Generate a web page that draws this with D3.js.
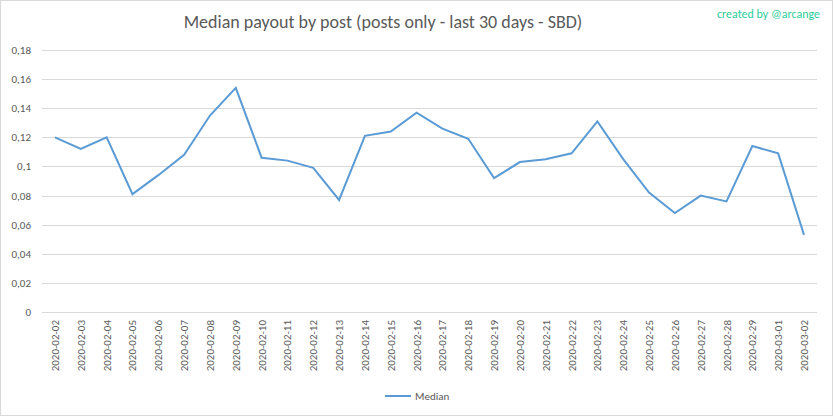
<!DOCTYPE html>
<html><head><meta charset="utf-8">
<script src="https://cdn.jsdelivr.net/npm/d3@7"></script>
<style>body{margin:0;background:#fff}</style></head>
<body><svg id="c" width="833" height="416"></svg>
<script>
const dates=["2020-02-02","2020-02-03","2020-02-04","2020-02-05","2020-02-06","2020-02-07","2020-02-08","2020-02-09","2020-02-10","2020-02-11","2020-02-12","2020-02-13","2020-02-14","2020-02-15","2020-02-16","2020-02-17","2020-02-18","2020-02-19","2020-02-20","2020-02-21","2020-02-22","2020-02-23","2020-02-24","2020-02-25","2020-02-26","2020-02-27","2020-02-28","2020-02-29","2020-03-01","2020-03-02"];
const median=[0.120,0.112,0.120,0.081,0.094,0.108,0.135,0.154,0.106,0.104,0.099,0.077,0.121,0.124,0.137,0.126,0.119,0.092,0.103,0.105,0.109,0.131,0.105,0.082,0.068,0.080,0.076,0.114,0.109,0.053];
const yTicks=[0,0.02,0.04,0.06,0.08,0.1,0.12,0.14,0.16,0.18];
const svg=d3.select("#c"),F="Calibri, Carlito, 'Open Sans', sans-serif";
svg.append("rect").attr("x",0.5).attr("y",0.5).attr("width",832).attr("height",415).attr("fill","#fff").attr("stroke","#d9d9d9");
const x=d3.scalePoint().domain(dates).range([55,804]);
const y=d3.scaleLinear().domain([0,0.18]).range([312,50]);
const fmt=d=>d===0?"0":d3.format(".2f")(d).replace(".",",").replace(/0$/,"").replace(/,$/,"");
const fmt2=d=>d===0?"0":String(+d.toFixed(2)).replace(".",",");
svg.append("g").selectAll("line").data(yTicks).join("line")
 .attr("x1",42).attr("x2",817).attr("y1",d=>Math.round(y(d))+0.5).attr("y2",d=>Math.round(y(d))+0.5).attr("stroke","#d9d9d9");
svg.append("g").selectAll("text").data(yTicks).join("text")
 .attr("x",31).attr("y",d=>y(d)+4).attr("text-anchor","end").attr("font-family",F).attr("font-size",11).attr("fill","#595959").text(fmt2);
svg.append("g").selectAll("text").data(dates).join("text")
 .attr("transform",d=>`translate(${x(d)+4},320) rotate(-90)`).attr("text-anchor","end")
 .attr("font-family",F).attr("font-size",11).attr("fill","#595959").text(d=>d);
svg.append("path").datum(median).attr("fill","none").attr("stroke","#5b9bd5").attr("stroke-width",2)
 .attr("d",d3.line().x((d,i)=>x(dates[i])).y(d=>y(d)));
svg.append("text").attr("x",383).attr("y",28).attr("text-anchor","middle").attr("font-family",F).attr("font-size",18).attr("fill","#595959").text("Median payout by post (posts only - last 30 days - SBD)");
svg.append("text").attr("x",820).attr("y",18).attr("text-anchor","end").attr("font-family",F).attr("font-size",12).attr("fill","#2ecc9a").text("created by @arcange");
svg.append("line").attr("x1",385).attr("x2",411).attr("y1",396).attr("y2",396).attr("stroke","#5b9bd5").attr("stroke-width",2);
svg.append("text").attr("x",415).attr("y",400).attr("font-family",F).attr("font-size",11).attr("fill","#595959").text("Median");
</script></body></html>
